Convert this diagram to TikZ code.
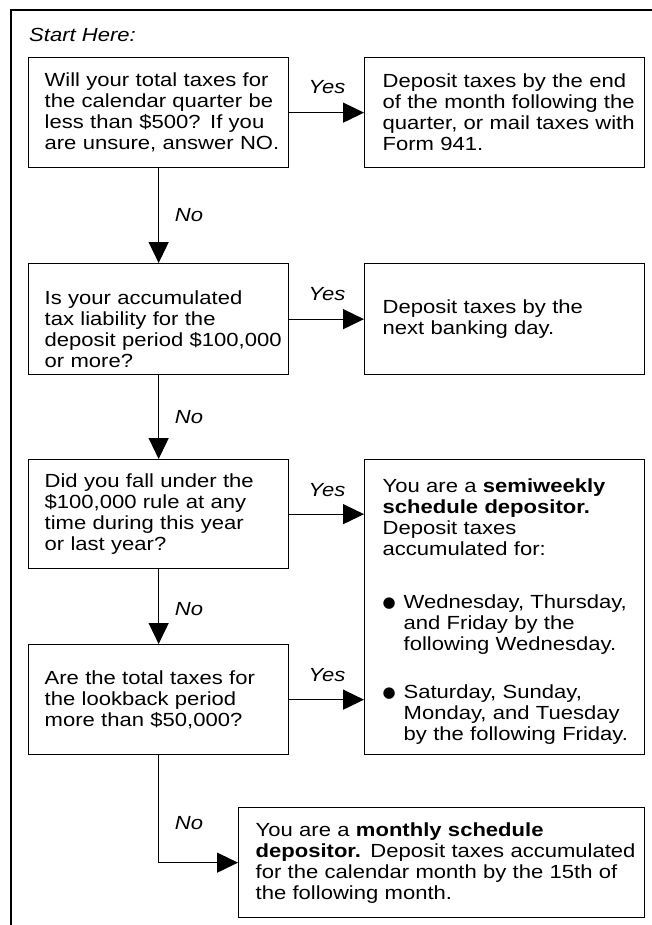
\documentclass[tikz,border=0pt]{standalone}
\usepackage{fontspec}
\setmainfont{Liberation Sans}[FakeStretch=1.16]
\newfontfamily\symfont{DejaVu Sans}
\usetikzlibrary{arrows.meta}
\newcommand\blt{\makebox[21pt][l]{\hspace{0pt}\raisebox{1pt}{\symfont\fontsize{15}{21}\selectfont ●}}}
\newcommand\ind{\hspace*{21pt}}
\begin{document}
\begin{tikzpicture}[x=1pt,y=-1pt,
  every node/.style={font=\fontsize{19}{21}\selectfont, inner sep=0pt},
  qbox/.style={draw, line width=1.3pt, anchor=north west, align=left,
    inner xsep=16pt, inner ysep=0pt, text width=228pt, minimum width=260pt},
  rbox/.style={draw, line width=1.3pt, anchor=north west, align=left,
    inner xsep=18pt, inner ysep=0pt, text width=244pt, minimum width=280pt},
  arr/.style={line width=1.3pt, -{Triangle[length=21pt,width=20pt]}},
  lbl/.style={font=\fontsize{19}{21}\selectfont\itshape, inner sep=0pt}
]
\useasboundingbox (0,0) rectangle (652,925);
\draw[line width=1.5pt] (11,927) -- (11,10) -- (654,10);

\node[lbl, anchor=west] (start) at (29,35) {Start Here:};

\node[qbox, minimum height=110pt] (q1) at (28,57) {%
\mbox{Will your total taxes for}\\
\mbox{the calendar quarter be}\\
\mbox{less than \$500? If you}\\
\mbox{are unsure, answer NO.}};

\node[rbox, minimum height=110pt] (r1) at (364,57) {%
\mbox{Deposit taxes by the end}\\
\mbox{of the month following the}\\
\mbox{quarter, or mail taxes with}\\
\mbox{Form 941.}};

\node[qbox, minimum height=111pt] (q2) at (28,263) {%
\mbox{}\\[13pt]
\mbox{Is your accumulated}\\
\mbox{tax liability for the}\\
\mbox{deposit period \$100,000}\\
\mbox{or more?}};

\node[rbox, minimum height=111pt] (r2) at (364,263) {%
\mbox{Deposit taxes by the}\\
\mbox{next banking day.}};

\node[qbox, minimum height=109pt] (q3) at (28,459) {%
\mbox{Did you fall under the}\\
\mbox{\$100,000 rule at any}\\
\mbox{time during this year}\\
\mbox{or last year?}};

\node[rbox, minimum height=295pt] (r3) at (364,459) {%
\mbox{}\\[1pt]
\mbox{You are a \textbf{semiweekly}}\\
\mbox{\textbf{schedule depositor.}}\\
\mbox{Deposit taxes}\\
\mbox{accumulated for:}\\[32pt]
\mbox{\blt Wednesday, Thursday,}\\
\mbox{\ind and Friday by the}\\
\mbox{\ind following Wednesday.}\\[27pt]
\mbox{\blt Saturday, Sunday,}\\
\mbox{\ind Monday, and Tuesday}\\
\mbox{\ind by the following Friday.}};

\node[qbox, minimum height=110pt] (q4) at (28,644) {%
\mbox{Are the total taxes for}\\
\mbox{the lookback period}\\
\mbox{more than \$50,000?}};

\node[rbox, inner xsep=17pt, text width=372pt, minimum width=406pt, minimum height=110pt] (r5) at (238,807) {%
\mbox{You are a \textbf{monthly schedule}}\\
\mbox{\textbf{depositor.} Deposit taxes accumulated}\\
\mbox{for the calendar month by the 15th of}\\
\mbox{the following month.}};

\draw[arr] (q1) -- (r1);
\draw[arr] (q1) -- (q2);
\draw[arr] (q2) -- (r2);
\draw[arr] (q2) -- (q3);
\draw[arr] (q3.east) -- (q3.east -| r3.west);
\draw[arr] (q3) -- (q4);
\draw[arr] (q4.east) -- (q4.east -| r3.west);
\draw[arr] (q4.south) |- (r5.west);

\node[lbl] (yes1) at (327,87) {Yes};
\node[lbl] (yes2) at (327,294) {Yes};
\node[lbl] (yes3) at (327,490) {Yes};
\node[lbl] (yes4) at (327,675) {Yes};
\node[lbl] (no1) at (189,215) {No};
\node[lbl] (no2) at (189,417) {No};
\node[lbl] (no3) at (189,609) {No};
\node[lbl] (no4) at (189,823) {No};
\end{tikzpicture}
\end{document}
